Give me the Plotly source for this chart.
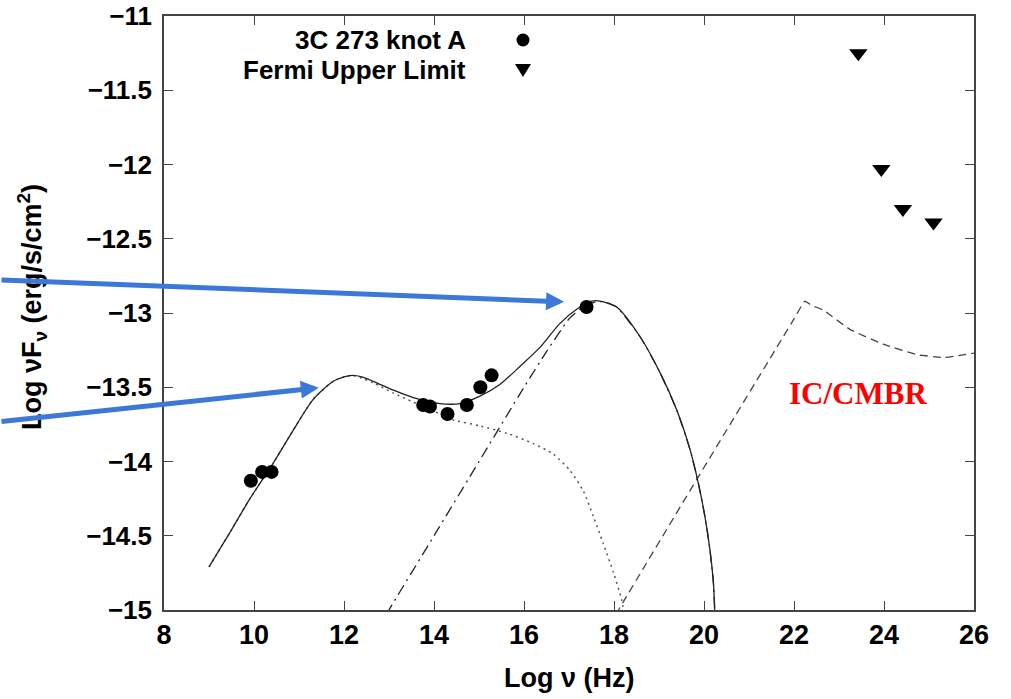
import plotly.graph_objects as go

# Observed SED of 3C 273 knot A (log nu [Hz], log nuFnu [erg/s/cm^2])
knot_lognu = [9.93, 10.18, 10.39, 13.76, 13.91, 14.30, 14.73, 15.03, 15.28, 17.39]
knot_lognufnu = [-14.13, -14.07, -14.07, -13.62, -13.63, -13.68, -13.62, -13.50, -13.42, -12.96]

# Fermi upper limits
fermi_lognu = [23.43, 23.94, 24.42, 25.10]
fermi_lognufnu = [-11.25, -12.03, -12.30, -12.39]

# Total model (solid)
total_lognu = [9.0, 9.5, 9.91, 10.43, 10.87, 11.32, 11.76, 12.0, 12.18, 12.4, 12.65, 13.10, 13.54,
               14.13, 14.58, 15.02, 15.47, 15.91, 16.36, 16.8, 17.24, 17.5, 17.69, 18.06, 18.58,
               19.02, 19.39, 19.69, 19.87, 20.02, 20.13, 20.21, 20.24]
total_lognufnu = [-14.71, -14.46, -14.25, -14.01, -13.79, -13.58, -13.46, -13.43, -13.42, -13.43, -13.46,
                  -13.52, -13.57, -13.61, -13.61, -13.56, -13.48, -13.36, -13.23, -13.07, -12.96, -12.92,
                  -12.92, -12.96, -13.16, -13.40, -13.65, -13.92, -14.14, -14.37, -14.59, -14.82, -15.02]

# First synchrotron component (dotted)
sync1_lognu = [9.0, 9.5, 9.91, 10.43, 10.87, 11.32, 11.76, 12.0, 12.18, 12.4, 12.65, 13.10, 13.54,
               14.21, 14.43, 15.02, 15.62, 16.21, 16.65, 17.02, 17.32, 17.54, 17.76, 17.99, 18.17, 18.22]
sync1_lognufnu = [-14.71, -14.46, -14.25, -14.01, -13.79, -13.58, -13.46, -13.43, -13.42, -13.44, -13.47,
                  -13.54, -13.60, -13.69, -13.72, -13.76, -13.81, -13.88, -13.95, -14.06, -14.20, -14.37,
                  -14.55, -14.75, -14.93, -15.02]

# Second synchrotron component (dash-dot)
sync2_lognu = [12.95, 13.0, 14.0, 15.0, 16.0, 16.5, 17.0, 17.3, 17.6, 17.8, 18.06, 18.58, 19.02,
               19.39, 19.69, 19.87, 20.02, 20.13, 20.21, 20.24]
sync2_lognufnu = [-15.03, -15.0, -14.5, -14.0, -13.5, -13.26, -13.04, -12.96, -12.925, -12.925, -12.96,
                  -13.16, -13.40, -13.65, -13.92, -14.14, -14.37, -14.59, -14.82, -15.02]

# Inverse Compton on the CMB (dashed)
iccmb_lognu = [18.05, 18.10, 19.84, 22.0, 22.24, 22.4, 22.65, 23.24, 23.98, 24.73, 25.32, 26.0]
iccmb_lognufnu = [-15.03, -15.0, -14.12, -13.04, -12.92, -12.95, -12.98, -13.11, -13.21, -13.28, -13.30, -13.27]

x_ticks = [8, 10, 12, 14, 16, 18, 20, 22, 24, 26]
x_ticktext = ["8", "10", "12", "14", "16", "18", "20", "22", "24", "26"]
y_ticks = [-11, -11.5, -12, -12.5, -13, -13.5, -14, -14.5, -15]
y_ticktext = ["\u221211", "\u221211.5", "\u221212", "\u221212.5", "\u221213",
              "\u221213.5", "\u221214", "\u221214.5", "\u221215"]

fig = go.Figure()

fig.add_trace(go.Scatter(x=sync1_lognu, y=sync1_lognufnu, mode="lines",
                         line=dict(color="#555555", width=1.5, dash="2px,4px",
                                   shape="spline", smoothing=0.7), showlegend=False))
fig.add_trace(go.Scatter(x=sync2_lognu, y=sync2_lognufnu, mode="lines",
                         line=dict(color="#222222", width=1.3, dash="11px,5px,2px,5px",
                                   shape="spline", smoothing=0.5), showlegend=False))
fig.add_trace(go.Scatter(x=iccmb_lognu, y=iccmb_lognufnu, mode="lines",
                         line=dict(color="#444444", width=1.3, dash="8px,5px",
                                   shape="spline", smoothing=0.3), showlegend=False))
fig.add_trace(go.Scatter(x=total_lognu, y=total_lognufnu, mode="lines",
                         line=dict(color="#222222", width=1.3, shape="spline", smoothing=0.7),
                         showlegend=False))
fig.add_trace(go.Scatter(x=knot_lognu, y=knot_lognufnu, mode="markers",
                         marker=dict(symbol="circle", size=14, color="black"),
                         name="3C 273 knot A", showlegend=False))
fig.add_trace(go.Scatter(x=fermi_lognu, y=fermi_lognufnu, mode="markers",
                         marker=dict(symbol="triangle-down", size=16, color="black"),
                         name="Fermi Upper Limit", showlegend=False, cliponaxis=False))

bold = dict(family="Liberation Sans, Arial, sans-serif", color="black", weight="bold")

axis_common = dict(showline=True, linecolor="#444444", linewidth=1.6, mirror="ticks",
                   ticks="inside", ticklen=9, tickwidth=1.4, tickcolor="#444444",
                   showgrid=False, zeroline=False, automargin=False)

fig.update_xaxes(range=[8, 26], tickvals=x_ticks, ticktext=x_ticktext,
                 tickfont=dict(size=27, **bold), **axis_common)
fig.update_yaxes(range=[-15, -11], tickvals=y_ticks, ticktext=y_ticktext,
                 tickfont=dict(size=26, **bold), ticklabelstandoff=5, **axis_common)

annotations = [
    # axis titles
    dict(text="Log \u03bd (Hz)", xref="paper", yref="paper", x=0.5, y=-0.115,
         xanchor="center", yanchor="middle", showarrow=False, font=dict(size=27, **bold)),
    dict(text="Log \u03bdF<sub>\u03bd</sub> (erg/s/cm<sup>2</sup>)", xref="paper", yref="paper",
         x=-0.163, y=0.51, textangle=-90, xanchor="center", yanchor="middle",
         showarrow=False, font=dict(size=27, **bold)),
    # legend text
    dict(text="3C 273 knot A", xref="paper", yref="paper", x=0.3755, y=0.9596,
         xanchor="right", yanchor="middle", showarrow=False, font=dict(size=26, **bold)),
    dict(text="Fermi Upper Limit", xref="paper", yref="paper", x=0.3755, y=0.909,
         xanchor="right", yanchor="middle", showarrow=False, font=dict(size=26, **bold)),
    # component label
    dict(text="<b>IC/CMBR</b>", x=23.42, y=-13.54, xref="x", yref="y", showarrow=False,
         xanchor="center", yanchor="middle",
         font=dict(family="Liberation Serif, Times New Roman, serif", size=31, color="#ff0000")),
    # pointer arrows
    dict(text="", x=16.89, y=-12.925, xref="x", yref="y", ax=-566, ay=-22,
         showarrow=True, arrowhead=2, arrowsize=0.72, arrowwidth=5, arrowcolor="#3b78d8"),
    dict(text="", x=11.44, y=-13.503, xref="x", yref="y", ax=-321, ay=34,
         showarrow=True, arrowhead=2, arrowsize=0.72, arrowwidth=5, arrowcolor="#3b78d8"),
]

shapes = [
    # legend keys
    dict(type="circle", xref="paper", yref="paper", xsizemode="pixel", ysizemode="pixel",
         xanchor=0.4432, yanchor=0.9596, x0=-6.5, x1=6.5, y0=-6.5, y1=6.5,
         fillcolor="black", line=dict(width=0)),
    dict(type="path", xref="paper", yref="paper", xsizemode="pixel", ysizemode="pixel",
         xanchor=0.4432, yanchor=0.909, path="M-8,6 L8,6 L0,-7 Z",
         fillcolor="black", line=dict(width=0)),
]

fig.update_layout(
    width=1011, height=699,
    margin=dict(l=164, r=37, t=16, b=89, autoexpand=False),
    plot_bgcolor="white", paper_bgcolor="white",
    annotations=annotations, shapes=shapes,
    showlegend=False,
)

fig.write_html("out.html")
